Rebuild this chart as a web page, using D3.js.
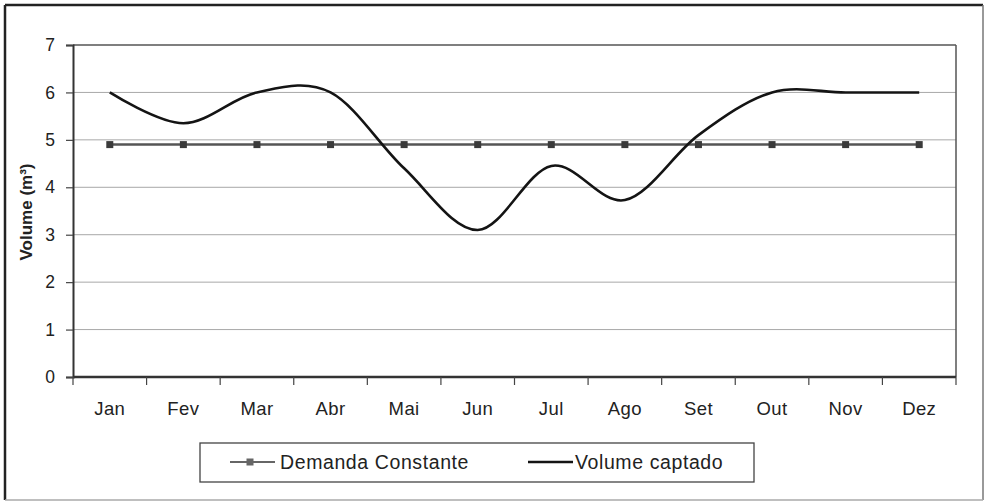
<!DOCTYPE html>
<html lang="pt">
<head>
<meta charset="utf-8">
<title>Volume captado x Demanda</title>
<script src="https://d3js.org/d3.v7.min.js"></script>
<style>
  body { margin: 0; background: #fff; }
  svg text { font-family: Arial, "Liberation Sans", sans-serif; fill: #222; }
</style>
</head>
<body>
<svg id="chart" width="985" height="502"></svg>
<script>
// data
var meses = ["Jan", "Fev", "Mar", "Abr", "Mai", "Jun", "Jul", "Ago", "Set", "Out", "Nov", "Dez"];
var volumeCaptado = [6.0, 5.35, 6.0, 6.0, 4.4, 3.1, 4.45, 3.73, 5.1, 6.0, 6.0, 6.0];
var demandaConstante = [4.9, 4.9, 4.9, 4.9, 4.9, 4.9, 4.9, 4.9, 4.9, 4.9, 4.9, 4.9];
var yTicks = [0, 1, 2, 3, 4, 5, 6, 7];

var svg = d3.select("#chart");
// plot box (window.top is reserved, so pX names)
var pLeft = 73, pRight = 956, pTop = 45, pBottom = 377;

var x = d3.scaleBand().domain(meses).range([pLeft, pRight]);
var y = d3.scaleLinear().domain([0, 7]).range([pBottom, pTop]);

// outer frame
svg.append("line").attr("x1", 5).attr("y1", 5).attr("x2", 983).attr("y2", 5).attr("stroke", "#222").attr("stroke-width", 2.5);
svg.append("line").attr("x1", 5).attr("y1", 5).attr("x2", 5).attr("y2", 500).attr("stroke", "#222").attr("stroke-width", 2.5);
svg.append("line").attr("x1", 983).attr("y1", 5).attr("x2", 983).attr("y2", 500).attr("stroke", "#777").attr("stroke-width", 1.5);
svg.append("line").attr("x1", 5).attr("y1", 500).attr("x2", 983).attr("y2", 500).attr("stroke", "#aaa").attr("stroke-width", 1.5);

// gridlines
svg.append("g").selectAll("line")
  .data(yTicks.filter(function(d) { return d > 0 && d < 7; }))
  .enter().append("line")
  .attr("x1", pLeft).attr("x2", pRight)
  .attr("y1", function(d) { return y(d); })
  .attr("y2", function(d) { return y(d); })
  .attr("stroke", "#a8a8a8").attr("stroke-width", 1);

// plot area top / right
svg.append("line").attr("x1", pLeft).attr("x2", pRight).attr("y1", pTop).attr("y2", pTop).attr("stroke", "#555").attr("stroke-width", 1.5);
svg.append("line").attr("x1", pRight).attr("x2", pRight).attr("y1", pTop).attr("y2", pBottom).attr("stroke", "#555").attr("stroke-width", 1.5);

// y axis
var yAxis = svg.append("g")
  .attr("transform", "translate(" + pLeft + ",0)")
  .call(d3.axisLeft(y).tickValues(yTicks).tickSize(7).tickPadding(11).tickFormat(d3.format("d")));
yAxis.select(".domain").attr("stroke", "#333").attr("stroke-width", 2);
yAxis.selectAll(".tick line").attr("stroke", "#444").attr("stroke-width", 1.2);
yAxis.selectAll("text").style("font-size", "17.5px").attr("fill", "#222");

// x axis, ticks on band edges
var xAxis = svg.append("g").attr("transform", "translate(0," + pBottom + ")");
xAxis.append("line").attr("x1", pLeft).attr("x2", pRight).attr("stroke", "#333").attr("stroke-width", 2.5);
var edges = meses.map(function(m) { return x(m); }).concat([pRight]);
xAxis.selectAll("line.tk").data(edges).enter().append("line")
  .attr("class", "tk")
  .attr("x1", function(d) { return d; }).attr("x2", function(d) { return d; })
  .attr("y1", 0).attr("y2", 8)
  .attr("stroke", "#444").attr("stroke-width", 1.2);
xAxis.selectAll("text").data(meses).enter().append("text")
  .attr("x", function(d) { return x(d) + x.bandwidth() / 2; })
  .attr("y", 38)
  .attr("text-anchor", "middle")
  .style("font-size", "18.5px")
  .style("letter-spacing", "0.4px")
  .text(function(d) { return d; });

// y title
svg.append("text")
  .attr("transform", "translate(32,212) rotate(-90)")
  .attr("text-anchor", "middle")
  .style("font-size", "17px")
  .style("font-weight", "bold")
  .text("Volume (m³)");

// series
var cx = function(d, i) { return x(meses[i]) + x.bandwidth() / 2; };

var demLine = d3.line().x(cx).y(function(d) { return y(d); });
svg.append("path").datum(demandaConstante)
  .attr("d", demLine).attr("fill", "none")
  .attr("stroke", "#555").attr("stroke-width", 2.5);
svg.append("g").selectAll("rect").data(demandaConstante).enter().append("rect")
  .attr("x", function(d, i) { return cx(d, i) - 3.5; })
  .attr("y", function(d) { return y(d) - 3.5; })
  .attr("width", 7).attr("height", 7)
  .attr("fill", "#3a3a3a");

var volLine = d3.line().x(cx).y(function(d) { return y(d); }).curve(d3.curveCardinal.tension(0));
svg.append("path").datum(volumeCaptado)
  .attr("d", volLine).attr("fill", "none")
  .attr("stroke", "#141414").attr("stroke-width", 2.6);

// legend
var lg = svg.append("g");
lg.append("rect").attr("x", 200).attr("y", 443).attr("width", 554).attr("height", 39)
  .attr("fill", "#fff").attr("stroke", "#444").attr("stroke-width", 1.3);
lg.append("line").attr("x1", 230).attr("x2", 275).attr("y1", 462).attr("y2", 462)
  .attr("stroke", "#666").attr("stroke-width", 2);
lg.append("rect").attr("x", 246.5).attr("y", 458.5).attr("width", 7).attr("height", 7).attr("fill", "#666");
lg.append("text").attr("x", 280).attr("y", 469).style("font-size", "19.5px").style("letter-spacing", "0.6px").text("Demanda Constante");
lg.append("line").attr("x1", 528).attr("x2", 573).attr("y1", 462).attr("y2", 462)
  .attr("stroke", "#141414").attr("stroke-width", 2.6);
lg.append("text").attr("x", 575).attr("y", 469).style("font-size", "19.5px").style("letter-spacing", "0.6px").text("Volume captado");
</script>
</body>
</html>
